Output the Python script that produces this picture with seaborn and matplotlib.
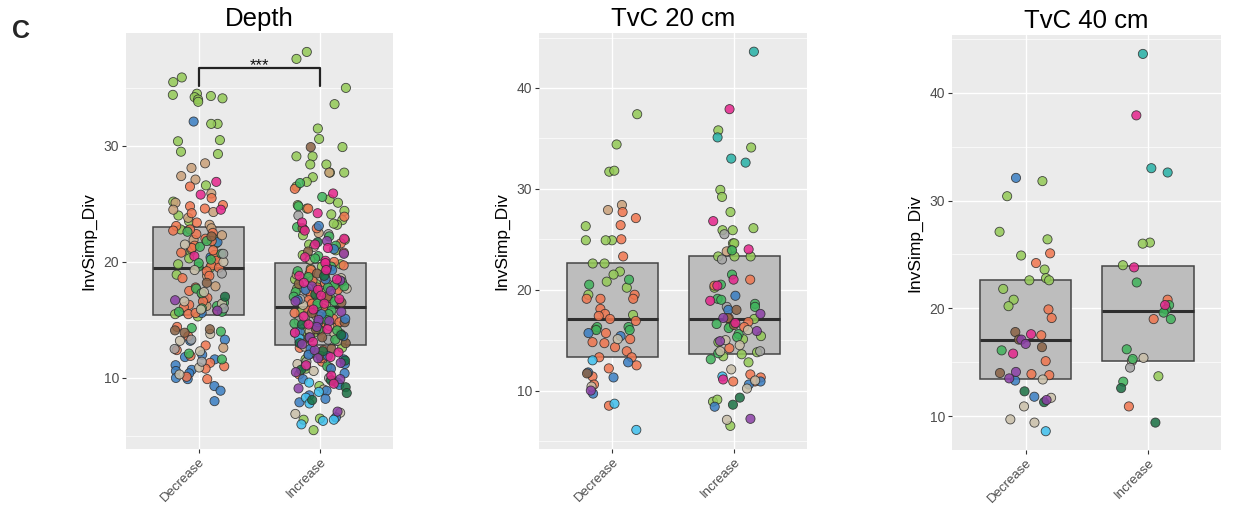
import numpy as np
import pandas as pd
import matplotlib
matplotlib.use("Agg")
import matplotlib.pyplot as plt
from matplotlib.ticker import MultipleLocator
import seaborn as sns

# ---------------------------------------------------------------------------
# Data: inverse Simpson diversity per sample, grouped by direction of change
# and coloured by taxon group.
# ---------------------------------------------------------------------------
groups = ["Decrease", "Increase"]
panel_titles = ["Depth", "TvC 20 cm", "TvC 40 cm"]

taxon_colors = {
    "lgreen": "#93C956",
    "tan": "#C9A079",
    "orange": "#F0764F",
    "beige": "#C9BFA8",
    "grey": "#A4A4A4",
    "green": "#3FB35B",
    "brown": "#8A6244",
    "blue": "#3A7EC2",
    "lblue": "#3FC0EE",
    "dgreen": "#1A7043",
    "purple": "#8B3FA6",
    "teal": "#27B1A6",
    "magenta": "#E5258C",
}

depth_decrease = {
    "lgreen": [35.9, 35.5, 34.5, 34.3, 34.2, 34.0, 34.4, 33.8, 34.1, 31.9, 31.9, 30.4,
               30.5, 29.3, 29.5, 26.6, 25.2, 24.0, 23.5, 22.8, 22.1, 21.6, 20.9, 20.3,
               19.8, 18.9, 19.5, 16.4, 15.5, 15.3],
    "blue": [32.1, 21.7, 20.4, 16.8, 15.6, 15.9, 13.3, 13.2, 11.8, 11.6, 11.1, 10.7,
             10.6, 10.4, 10.0, 9.9, 9.3, 8.9, 8.0, 12.0],
    "tan": [28.5, 28.1, 27.4, 27.1, 25.9, 25.1, 24.5, 24.3, 23.8, 23.2, 22.9, 22.3,
            21.9, 21.1, 20.6, 19.9, 18.8, 17.9, 16.2, 12.6],
    "orange": [26.5, 25.5, 24.9, 24.8, 24.6, 24.2, 23.4, 23.1, 22.7, 22.5, 22.4, 22.0,
               21.8, 21.4, 21.2, 20.8, 20.6, 20.1, 19.7, 19.5, 19.2, 18.8, 18.6, 21.0,
               22.8, 17.8, 17.5, 17.2, 16.9, 16.6, 16.3, 16.1, 15.8, 15.5, 15.6, 14.4,
               13.6, 12.4, 11.9, 11.3, 11.0, 10.8, 10.1, 9.9, 12.8],
    "magenta": [26.9, 25.8, 24.5, 20.5],
    "green": [22.6, 21.3, 20.7, 20.2, 19.6, 19.9, 21.8, 17.7, 17.3, 16.5, 15.7, 16.2,
              15.7, 16.0, 14.3, 14.0, 12.1, 11.6],
    "beige": [21.5, 19.3, 20.0, 17.4, 16.4, 15.9, 16.6, 13.8, 12.3, 10.9, 10.3, 13.2],
    "grey": [19.0, 20.7, 16.0, 13.3, 12.5, 11.4],
    "brown": [22.2, 18.2, 14.1, 13.9, 14.2],
    "purple": [16.7, 15.8],
    "dgreen": [17.0],
}

depth_increase = {
    "lgreen": [38.1, 37.5, 35.0, 33.6, 31.5, 30.6, 29.9, 29.1, 29.1, 28.4, 28.4, 27.7,
               27.7, 27.3, 26.9, 26.5, 25.1, 24.9, 24.4, 24.1, 23.6, 23.2, 22.8, 22.3,
               21.9, 21.5, 21.0, 20.6, 20.2, 25.4, 24.6, 23.3,
               19.8, 19.4, 18.9, 18.5, 18.1, 17.7, 17.3, 16.9, 16.5, 16.3, 19.1, 17.9,
               19.6, 18.3,
               15.9, 15.4, 14.9, 14.5, 14.0, 13.6, 13.2, 15.1, 15.7, 14.7, 13.9,
               12.6, 11.6, 10.8, 9.3, 6.5, 6.4, 5.5],
    "tan": [27.7, 22.5, 18.9, 17.3, 15.4, 14.3],
    "orange": [26.3, 24.6, 23.9, 21.6, 20.8, 20.0, 22.9,
               19.7, 19.0, 18.6, 18.2, 17.8, 17.5, 17.2, 16.9, 16.7, 16.4, 18.4, 19.3, 17.6,
               16.0, 15.6, 15.1, 14.6, 14.3, 14.1, 13.7, 13.4, 13.0, 15.8, 15.3, 14.8,
               12.6, 12.1, 11.4, 10.9, 10.3, 9.7, 12.4, 11.7],
    "beige": [21.3, 20.2, 18.6, 17.7, 16.3, 15.3, 14.5, 13.8, 13.2, 14.0,
              12.7, 11.2, 10.6, 9.0, 7.0, 6.9],
    "grey": [24.0, 22.4, 18.0, 16.8, 14.9, 13.9, 13.3, 12.0, 11.4, 10.0],
    "green": [26.8, 25.6, 24.8, 23.0, 22.2, 21.4, 20.5, 20.3,
              19.6, 19.2, 18.7, 18.3, 17.9, 17.4, 17.0, 16.6, 16.2, 18.0, 17.8, 16.4,
              15.8, 15.2, 14.7, 14.2, 13.8, 13.3, 15.5, 15.0, 14.1, 13.5,
              12.2, 11.0, 9.6],
    "brown": [29.9, 22.9, 20.9, 19.0, 18.1, 17.0, 16.5, 15.6, 14.8, 14.2, 13.5, 13.0,
              12.5, 11.9],
    "blue": [21.1, 23.1, 19.3, 17.6, 16.7, 18.5, 15.5, 14.8, 14.0, 13.6, 13.1, 15.1,
             12.5, 12.0, 11.6, 11.2, 10.8, 10.4, 9.9, 9.4, 8.9, 8.5, 8.2, 7.9, 6.6, 11.9],
    "lblue": [13.4, 11.0, 9.6, 8.8, 8.3, 7.8, 6.3, 6.0, 6.4],
    "dgreen": [21.7, 17.2, 18.8, 14.6, 13.7, 13.0, 12.3, 11.5, 10.7, 9.8, 9.2, 8.7, 8.1],
    "purple": [21.8, 20.7, 19.5, 18.4, 17.5, 16.6, 17.9, 15.7, 15.0, 14.4, 13.5, 12.9,
               14.9, 12.4, 11.3, 10.5, 9.9, 9.1, 7.1, 11.7],
    "magenta": [25.9, 24.2, 23.4, 22.0, 21.2, 20.4, 20.1, 22.7, 21.5,
                19.9, 19.3, 18.8, 18.2, 17.6, 17.1, 16.8, 16.4, 18.5,
                15.9, 15.3, 14.6, 13.9, 13.1, 14.2,
                12.2, 11.1, 10.2, 9.5, 11.8],
}

tvc20_decrease = {
    "lgreen": [37.4, 34.4, 31.7, 31.8, 26.3, 24.9, 24.9, 24.9, 22.6, 22.6, 21.8, 21.5,
               20.8, 20.2, 19.5, 17.5],
    "tan": [28.4, 27.9],
    "orange": [27.7, 27.1, 26.4, 25.0, 23.3, 19.5, 19.1, 19.1, 19.1, 18.1, 17.6, 17.4,
               17.1, 16.9, 16.1, 15.7, 15.1, 14.8, 14.7, 14.3, 13.9, 13.3, 13.3, 12.5,
               12.2, 11.4, 10.6, 8.5],
    "green": [21.0, 20.5, 16.3, 16.3, 16.0, 16.0],
    "blue": [15.7, 15.4, 12.8, 11.8, 11.3, 9.7],
    "beige": [15.1, 10.4],
    "lblue": [13.0, 8.7, 6.1],
    "brown": [11.7],
    "purple": [10.0],
}

tvc20_increase = {
    "lgreen": [35.8, 34.1, 29.9, 29.2, 27.7, 26.1, 25.9, 25.9, 24.6, 24.6, 23.9, 23.3,
               23.3, 23.3, 20.2, 17.1, 16.4, 15.4, 15.1, 14.8, 13.8, 13.4, 13.6, 12.8,
               8.9, 9.1, 6.5],
    "tan": [23.8],
    "grey": [25.5, 23.0, 18.3, 13.9],
    "green": [23.9, 21.5, 20.5, 19.1, 19.0, 18.6, 18.3, 16.6, 16.2, 15.6, 15.3, 13.7, 13.1],
    "orange": [21.0, 20.4, 17.2, 16.8, 16.3, 14.2, 11.6, 11.3, 10.9, 10.9],
    "blue": [19.4, 18.0, 10.9, 10.6, 8.4],
    "brown": [18.0, 17.2, 16.5],
    "beige": [16.0, 15.0, 14.5, 13.9, 12.1, 11.0, 10.2, 7.1],
    "lblue": [11.4],
    "dgreen": [9.3, 8.6],
    "purple": [17.6, 17.2, 15.9, 14.9, 7.2],
    "teal": [43.6, 35.1, 33.0, 32.6],
    "magenta": [37.9, 26.8, 24.0, 21.0, 20.4, 18.9, 16.7, 11.1],
}

tvc40_decrease = {
    "lgreen": [31.8, 30.4, 27.1, 26.4, 24.9, 23.6, 22.6, 22.8, 22.6, 21.8, 20.8, 20.2],
    "orange": [25.1, 24.2, 19.9, 19.1, 17.5, 15.1, 13.8, 13.9],
    "beige": [13.4, 11.7, 10.9, 9.7, 9.4],
    "green": [16.1],
    "brown": [17.8, 17.1, 16.4, 14.0],
    "blue": [32.1, 13.3, 11.8],
    "lblue": [8.6],
    "dgreen": [12.3, 11.3],
    "purple": [17.1, 16.7, 14.1, 13.5, 11.5],
    "magenta": [17.6, 15.8],
}

tvc40_increase = {
    "lgreen": [26.1, 26.0, 24.0, 13.7],
    "orange": [20.8, 19.0, 10.9],
    "beige": [15.4, 15.1],
    "grey": [14.5],
    "green": [22.4, 20.3, 19.9, 19.6, 19.0, 16.2, 15.3, 13.2],
    "dgreen": [12.6, 9.4],
    "teal": [43.6, 33.0, 32.6],
    "magenta": [37.9, 23.8, 20.3],
}

panel_data = [
    (depth_decrease, depth_increase),
    (tvc20_decrease, tvc20_increase),
    (tvc40_decrease, tvc40_increase),
]

# Significance bracket on the Depth panel
sig_label = "***"
sig_bracket_y = 36.7
sig_tip_y = 35.2


def long_frame(decrease, increase):
    rows = []
    for grp, table in zip(groups, (decrease, increase)):
        for taxon, values in table.items():
            rows.extend((grp, taxon, v) for v in values)
    return pd.DataFrame(rows, columns=["change", "taxon", "InvSimp_Div"])


# ---------------------------------------------------------------------------
# Styling: ggplot-like grey panel with white grid
# ---------------------------------------------------------------------------
sns.set_theme(style="darkgrid", rc={
    "axes.facecolor": "#EBEBEB",
    "figure.facecolor": "white",
    "grid.color": "white",
    "grid.linewidth": 1.0,
    "axes.axisbelow": True,
    "xtick.bottom": True,
    "ytick.left": True,
    "xtick.major.size": 3.0,
    "ytick.major.size": 3.0,
    "xtick.major.width": 0.8,
    "ytick.major.width": 0.8,
    "xtick.color": "#333333",
    "ytick.color": "#333333",
    "xtick.labelcolor": "#4D4D4D",
    "ytick.labelcolor": "#4D4D4D",
    "xtick.major.pad": 1.5,
    "ytick.major.pad": 2.0,
})
plt.rcParams["font.family"] = ["Liberation Sans", "DejaVu Sans"]

fig = plt.figure(figsize=(12.48, 5.08), dpi=100)
axes_rects = [
    (0.101, 0.116, 0.214, 0.819),
    (0.432, 0.116, 0.215, 0.819),
    (0.763, 0.114, 0.2155, 0.817),
]
y_limits = [(3.87, 39.73), (4.2, 45.45), (6.85, 45.35)]

np.random.seed(11)
hue_order = list(taxon_colors.keys())

for title, (dec, inc), rect, ylim in zip(panel_titles, panel_data, axes_rects, y_limits):
    ax = fig.add_axes(rect)
    df = long_frame(dec, inc)

    sns.boxplot(
        data=df, x="change", y="InvSimp_Div", order=groups, ax=ax,
        whis=0, showfliers=False, showcaps=False, width=0.75,
        color="#BDBDBD", saturation=1, linecolor="#454545", linewidth=1.1,
        medianprops={"linewidth": 2.2, "color": "#2E2E2E"},
        whiskerprops={"linewidth": 0},
    )
    sns.stripplot(
        data=df, x="change", y="InvSimp_Div", order=groups, hue="taxon",
        hue_order=hue_order, palette=taxon_colors, ax=ax,
        jitter=0.22, size=6.6, edgecolor="#2A2A2A", linewidth=0.6,
        alpha=0.85, legend=False, zorder=3,
    )

    ax.set_xlim(-0.6, 1.6)
    ax.set_ylim(*ylim)
    ax.yaxis.set_major_locator(MultipleLocator(10))
    ax.yaxis.set_minor_locator(MultipleLocator(5))
    ax.grid(which="major", color="white", linewidth=1.0)
    ax.grid(which="minor", axis="y", color="white", linewidth=0.5)
    ax.tick_params(which="minor", length=0)
    ax.tick_params(axis="y", labelsize=10)
    ax.tick_params(axis="x", labelsize=9.5)
    for spine in ax.spines.values():
        spine.set_visible(False)

    plt.setp(ax.get_xticklabels(), rotation=45, ha="right", rotation_mode="anchor")
    ax.set_xlabel("")
    ax.set_ylabel("InvSimp_Div", fontsize=12.5, labelpad=5, color="black")
    ax.set_title(title, fontsize=18.5, pad=5, color="black")

    if title == "Depth":
        ax.plot([0, 0, 1, 1], [sig_tip_y, sig_bracket_y, sig_bracket_y, sig_tip_y],
                color="#222222", linewidth=1.6, zorder=4)
        ax.text(0.5, sig_bracket_y - 0.15, sig_label, ha="center", va="baseline",
                fontsize=12, color="#111111", zorder=4)

fig.text(0.0096, 1 - 19 / 508, "C", fontsize=18, fontweight="bold",
         ha="left", va="top")

fig.savefig("out.png", dpi=100)
